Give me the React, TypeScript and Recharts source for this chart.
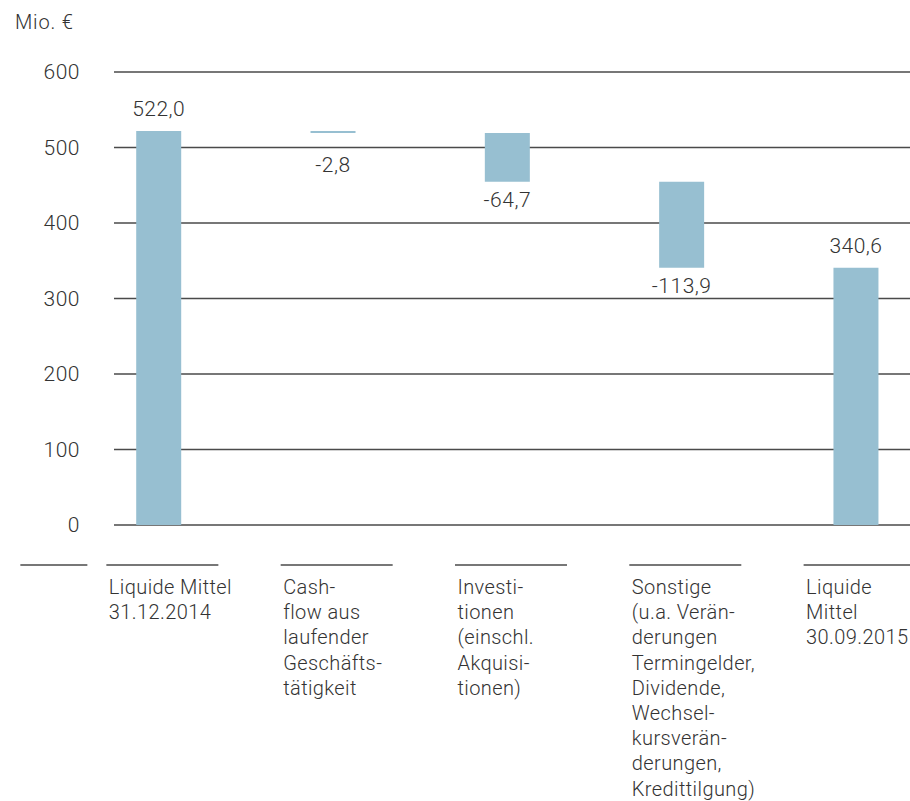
import React from 'react';
import { BarChart, Bar, XAxis, YAxis, CartesianGrid, LabelList } from 'recharts';

const categories: string[][] = [
  ['Liquide Mittel', '31.12.2014'],
  ['Cash-', 'flow aus', 'laufender', 'Geschäfts-', 'tätigkeit'],
  ['Investi-', 'tionen', '(einschl.', 'Akquisi-', 'tionen)'],
  ['Sonstige', '(u.a. Verän-', 'derungen', 'Termingelder,', 'Dividende,', 'Wechsel-', 'kursverän-', 'derungen,', 'Kredittilgung)'],
  ['Liquide', 'Mittel', '30.09.2015'],
];
const changes = [522.0, -2.8, -64.7, -113.9, 340.6];
const isTotal = [true, false, false, false, true];
const valueLabels = ['522,0', '-2,8', '-64,7', '-113,9', '340,6'];
const yTicks = [0, 100, 200, 300, 400, 500, 600];
const unitLabel = 'Mio. €';

const buildData = () => {
  let running = 0;
  return changes.map((c, i) => {
    if (isTotal[i]) {
      running = c;
      return { pos: i, base: 0, value: c };
    }
    const next = running + c;
    const row = { pos: i, base: Math.min(running, next), value: Math.abs(c) };
    running = next;
    return row;
  });
};
const data = buildData();

const FONT = 'Roboto, "DejaVu Sans", sans-serif';
const WEIGHT = 300;
const TEXT = '#333333';
const LINE = '#4a4a4a';
const BAR = '#97bfd1';

const CategoryTick = (props: any) => {
  const { x, y, payload } = props;
  const i = Math.round(payload.value);
  const lines = categories[i] || [];
  const lineY = y + 32;
  const textY = y + 61;
  const tx = x - 49.5;
  return (
    <g>
      {i === 0 && (
        <line x1={x - 138} x2={x - 71} y1={lineY} y2={lineY} stroke={LINE} strokeWidth={1.5} />
      )}
      <line x1={x - 52} x2={x + 60} y1={lineY} y2={lineY} stroke={LINE} strokeWidth={1.5} />
      <text x={tx} y={textY} fill={TEXT} fontSize={20} fontWeight={WEIGHT} fontFamily={FONT} letterSpacing={0.4} textAnchor="start">
        {lines.map((l, k) => (
          <tspan key={k} x={tx} dy={k === 0 ? 0 : 25.2}>
            {l}
          </tspan>
        ))}
      </text>
    </g>
  );
};

const ValueLabel = (props: any) => {
  const { x, y, width, height, index } = props;
  const cx = x + width / 2;
  const ty = isTotal[index] ? y - 15 : Math.max(y + height + 25, y + 41);
  return (
    <text x={cx} y={ty} fill={TEXT} fontSize={21} fontWeight={WEIGHT} fontFamily={FONT} letterSpacing={0.5} textAnchor="middle">
      {valueLabels[index]}
    </text>
  );
};

export default function App() {
  return (
    <div style={{ position: 'fixed', left: 0, top: 0, width: 910, height: 801, background: '#fff' }}>
      <div
        style={{
          position: 'absolute',
          left: 15,
          top: 8,
          fontFamily: FONT,
          fontWeight: WEIGHT,
          fontSize: 20,
          letterSpacing: 0.8,
          color: TEXT,
          lineHeight: '28px',
        }}
      >
        {unitLabel}
      </div>
      <BarChart width={910} height={801} data={data} margin={{ top: 72, right: 0, bottom: 0, left: 0 }}>
        <CartesianGrid vertical={false} horizontal stroke={LINE} strokeWidth={1.3} />
        <XAxis
          dataKey="pos"
          type="number"
          domain={[-0.2545, 4.312]}
          allowDataOverflow
          ticks={[0, 1, 2, 3, 4]}
          interval={0}
          axisLine={false}
          tickLine={false}
          height={276}
          tick={<CategoryTick />}
        />
        <YAxis
          type="number"
          domain={[0, 600]}
          ticks={yTicks}
          width={114}
          axisLine={false}
          tickLine={false}
          tickSize={6}
          tickMargin={28}
          tick={{ fill: TEXT, fontSize: 21, fontWeight: WEIGHT, fontFamily: FONT, letterSpacing: 0.5 }}
        />
        <Bar dataKey="base" stackId="w" fill="transparent" barSize={45} isAnimationActive={false} />
        <Bar dataKey="value" stackId="w" fill={BAR} barSize={45} isAnimationActive={false}>
          <LabelList dataKey="value" content={<ValueLabel />} />
        </Bar>
      </BarChart>
    </div>
  );
}
